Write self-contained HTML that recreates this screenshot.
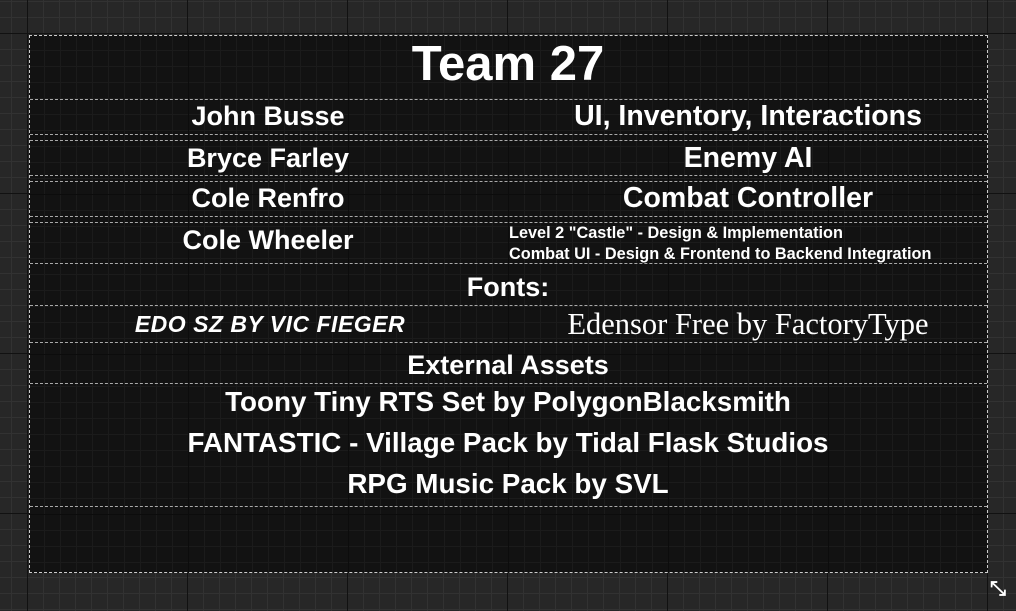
<!DOCTYPE html>
<html><head><style>
html,body{margin:0;padding:0;}
body{width:1016px;height:611px;overflow:hidden;position:relative;background:#272727;
background-image:
linear-gradient(to right,#111 1px,transparent 1px),
linear-gradient(to bottom,#111 1px,transparent 1px),
linear-gradient(to right,#323232 1px,transparent 1px),
linear-gradient(to bottom,#323232 1px,transparent 1px);
background-size:160px 160px,160px 160px,16px 16px,16px 16px;
background-position:27px 33px,27px 33px,11px 1px,11px 1px;
font-family:"Liberation Sans",sans-serif;color:#fff;}
#box{position:absolute;left:29px;top:35px;width:959px;height:538px;background:#121212;
background-image:
linear-gradient(to right,#0c0c0c 1px,transparent 1px),
linear-gradient(to bottom,#0c0c0c 1px,transparent 1px),
linear-gradient(to right,#1b1b1b 1px,transparent 1px),
linear-gradient(to bottom,#1b1b1b 1px,transparent 1px);
background-size:160px 160px,160px 160px,16px 16px,16px 16px;
background-position:-2px -2px,-2px -2px,14px 14px,14px 14px;
border:1px dashed #ccc;box-sizing:border-box;}
.h{position:absolute;left:30px;width:957px;border-top:1px dashed #aaa;height:0;}
.t{position:absolute;text-align:center;font-weight:bold;white-space:nowrap;line-height:1;}
.arrow{position:absolute;left:990px;top:578px;font-size:20px;color:#fff;font-weight:bold;}
</style></head><body>
<div id="box"></div>
<div class="h" style="top:99px"></div>
<div class="h" style="top:134px"></div>
<div class="h" style="top:140px"></div>
<div class="h" style="top:175px"></div>
<div class="h" style="top:181px"></div>
<div class="h" style="top:216px"></div>
<div class="h" style="top:222px"></div>
<div class="h" style="top:263px"></div>
<div class="h" style="top:305px"></div>
<div class="h" style="top:342px"></div>
<div class="h" style="top:383px"></div>
<div class="h" style="top:506px"></div>

<div class="t" style="left:308px;width:400px;top:40px;font-size:49px;">Team 27</div>

<div class="t" style="left:118px;width:300px;top:103px;font-size:27px;">John Busse</div>
<div class="t" style="left:548px;width:400px;top:102px;font-size:28.5px;">UI, Inventory, Interactions</div>
<div class="t" style="left:118px;width:300px;top:145px;font-size:27px;">Bryce Farley</div>
<div class="t" style="left:548px;width:400px;top:144px;font-size:28.5px;">Enemy AI</div>
<div class="t" style="left:118px;width:300px;top:185px;font-size:27px;">Cole Renfro</div>
<div class="t" style="left:548px;width:400px;top:184px;font-size:28.5px;">Combat Controller</div>
<div class="t" style="left:118px;width:300px;top:227px;font-size:27px;">Cole Wheeler</div>
<div class="t" style="left:509px;top:223px;font-size:16.3px;text-align:left;line-height:21px;">Level 2 "Castle" - Design &amp; Implementation<br>Combat UI - Design &amp; Frontend to Backend Integration</div>

<div class="t" style="left:308px;width:400px;top:274px;font-size:27px;">Fonts:</div>
<div class="t" style="left:120px;width:300px;top:313px;font-size:23px;font-style:italic;letter-spacing:0.5px;">EDO SZ BY VIC FIEGER</div>
<div class="t" style="left:548px;width:400px;top:309px;font-size:30.5px;font-weight:normal;font-family:'Liberation Serif',serif;">Edensor Free by FactoryType</div>

<div class="t" style="left:308px;width:400px;top:352px;font-size:27px;">External Assets</div>
<div class="t" style="left:108px;width:800px;top:388px;font-size:27.8px;">Toony Tiny RTS Set by PolygonBlacksmith</div>
<div class="t" style="left:108px;width:800px;top:429px;font-size:27.8px;">FANTASTIC - Village Pack by Tidal Flask Studios</div>
<div class="t" style="left:108px;width:800px;top:470px;font-size:27.8px;">RPG Music Pack by SVL</div>

<div class="arrow">⤡</div>
</body></html>
